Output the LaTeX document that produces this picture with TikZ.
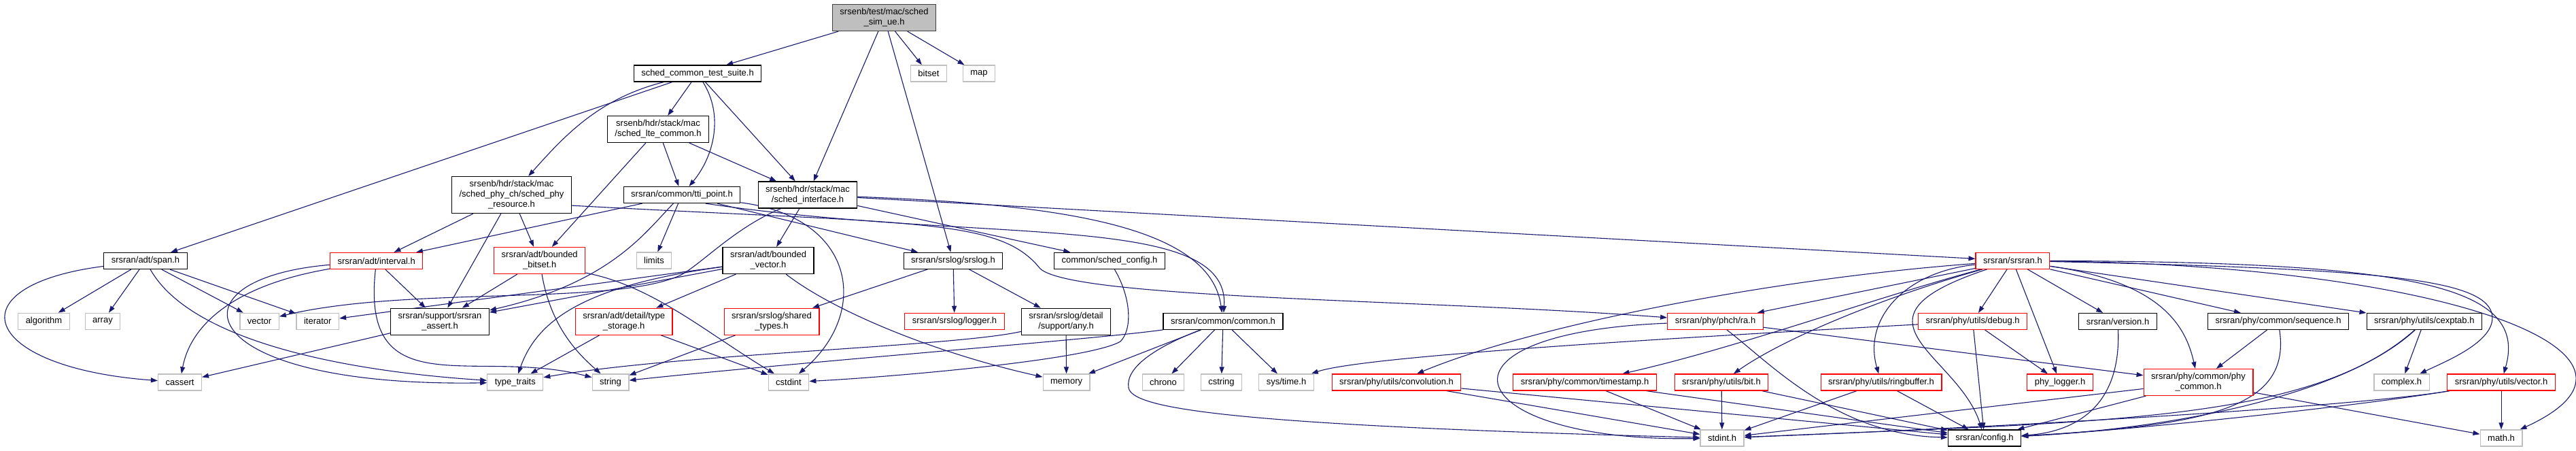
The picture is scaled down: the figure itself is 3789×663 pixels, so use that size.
\documentclass[tikz,border=0pt]{standalone}
\usepackage{fontspec}
\setmainfont{Liberation Sans}
\usetikzlibrary{arrows.meta,backgrounds}
\definecolor{depblue}{RGB}{25,25,112}
\definecolor{grey75}{RGB}{191,191,191}
\tikzset{
  hdr/.style={draw=black, fill=white, line width=1.2pt, inner xsep=11pt, inner ysep=2pt,
    minimum height=24pt, align=center, font=\fontsize{13}{15}\selectfont},
  redhdr/.style={hdr, draw=red},
  syshdr/.style={hdr, draw=grey75},
  tophdr/.style={hdr, fill=grey75, draw=black!75},
  lines2/.style={minimum height=39pt},
  lines3/.style={minimum height=54pt},
  dep/.style={->, draw=depblue, line width=1.1pt},
  >={Triangle[length=10pt,width=7pt]}
}
\begin{document}
\begin{tikzpicture}[x=1pt,y=-1pt]
\useasboundingbox (0,0) rectangle (3789,663);

\node[tophdr,lines2] (simue) at (1300.5,26) {srsenb/test/mac/sched\\\_sim\_ue.h};

\node[hdr] (suite) at (1026,108) {sched\_common\_test\_suite.h};
\node[syshdr] (bitset) at (1366,108) {bitset};
\node[syshdr] (map) at (1440,108) {map};

\node[hdr,lines2] (lte) at (968,190) {srsenb/hdr/stack/mac\\/sched\_lte\_common.h};

\node[hdr,lines3] (phyres) at (752.5,286.5) {srsenb/hdr/stack/mac\\/sched\_phy\_ch/sched\_phy\\\_resource.h};
\node[hdr] (tti) at (1003,286.5) {srsran/common/tti\_point.h};
\node[hdr,lines2] (iface) at (1188,286.5) {srsenb/hdr/stack/mac\\/sched\_interface.h};

\node[hdr] (span) at (214,383.5) {srsran/adt/span.h};
\node[redhdr] (interval) at (553.7,383.5) {srsran/adt/interval.h};
\node[redhdr,lines2] (bbitset) at (793.7,383) {srsran/adt/bounded\\\_bitset.h};
\node[syshdr] (limits) at (962,383) {limits};
\node[hdr,lines2] (bvector) at (1130,383) {srsran/adt/bounded\\\_vector.h};
\node[hdr] (srslog) at (1402,383.3) {srsran/srslog/srslog.h};
\node[hdr] (schedcfg) at (1632,383.3) {common/sched\_config.h};
\node[redhdr] (srsranh) at (2960.4,383.3) {srsran/srsran.h};

\node[syshdr] (algorithm) at (64.5,472.3) {algorithm};
\node[syshdr] (array) at (151,472.3) {array};
\node[syshdr] (vector) at (381.6,472.3) {vector};
\node[syshdr] (iterator) at (467.3,472.3) {iterator};
\node[hdr,lines2] (assert) at (647,472.7) {srsran/support/srsran\\\_assert.h};
\node[redhdr,lines2] (typestor) at (917.7,472.7) {srsran/adt/detail/type\\\_storage.h};
\node[redhdr,lines2] (shtypes) at (1135,472.7) {srsran/srslog/shared\\\_types.h};
\node[redhdr] (logger) at (1404,472.3) {srsran/srslog/logger.h};
\node[hdr,lines2] (any) at (1568,472.7) {srsran/srslog/detail\\/support/any.h};
\node[hdr] (common) at (1799,472.3) {srsran/common/common.h};
\node[redhdr] (ra) at (2523,472.3) {srsran/phy/phch/ra.h};
\node[redhdr] (debug) at (2901.6,472.5) {srsran/phy/utils/debug.h};
\node[hdr] (version) at (3115,472.5) {srsran/version.h};
\node[hdr] (sequence) at (3351,472.5) {srsran/phy/common/sequence.h};
\node[hdr] (cexptab) at (3565.8,472.5) {srsran/phy/utils/cexptab.h};

\node[syshdr] (cassert) at (264.5,562) {cassert};
\node[syshdr] (typetraits) at (757.8,562) {type\_traits};
\node[syshdr] (string) at (898,562) {string};
\node[syshdr] (cstdint) at (1160,562) {cstdint};
\node[syshdr] (memory) at (1568.6,562) {memory};
\node[syshdr] (chrono) at (1711,562) {chrono};
\node[syshdr] (cstring) at (1796.5,562) {cstring};
\node[syshdr] (systime) at (1892,562) {sys/time.h};
\node[redhdr] (convol) at (2054,562) {srsran/phy/utils/convolution.h};
\node[redhdr] (timestamp) at (2331,562) {srsran/phy/common/timestamp.h};
\node[redhdr] (bit) at (2532,562) {srsran/phy/utils/bit.h};
\node[redhdr] (ringbuf) at (2767,562) {srsran/phy/utils/ringbuffer.h};
\node[redhdr] (phylog) at (3030,562) {phy\_logger.h};
\node[redhdr,lines2] (phycommon) at (3233.5,562) {srsran/phy/common/phy\\\_common.h};
\node[syshdr] (complex) at (3532.5,562) {complex.h};
\node[redhdr] (vectorh) at (3679,562) {srsran/phy/utils/vector.h};

\node[syshdr] (stdint) at (2533,644) {stdint.h};
\node[hdr] (config) at (2919,644) {srsran/config.h};
\node[syshdr] (math) at (3679,644) {math.h};

\begin{scope}[on background layer]
\draw[dep] (simue) -- (suite);
\draw[dep] (simue) -- (iface);
\draw[dep] (simue) -- (srslog);
\draw[dep] (simue) -- (bitset);
\draw[dep] (simue) -- (map);

\draw[dep] (suite) -- (span);
\draw[dep] (suite) .. controls (880,145) and (830,200) .. (phyres);
\draw[dep] (suite) -- (lte);
\draw[dep] (suite) .. controls (1065,170) and (1050,230) .. (tti);
\draw[dep] (suite) -- (iface);

\draw[dep] (lte) -- (bbitset);
\draw[dep] (lte) -- (tti);
\draw[dep] (lte) -- (iface);

\draw[dep] (phyres) -- (interval);
\draw[dep] (phyres) -- (assert);
\draw[dep] (phyres) -- (bbitset);
\draw[dep] (phyres.-10) .. controls (1350,330) and (1470,320) .. (1530,395) .. controls (1580,440) and (2100,440) .. (ra);

\draw[dep] (tti) -- (interval);
\draw[dep] (tti) .. controls (950,340) and (900,415) .. (assert);
\draw[dep] (tti) -- (limits);
\draw[dep] (tti) .. controls (1260,320) and (1280,460) .. (cstdint);
\draw[dep] (tti) -- (srslog);
\draw[dep] (tti.-20) .. controls (1450,360) and (1810,310) .. (common);

\draw[dep] (iface) -- (bvector);
\draw[dep] (iface) -- (schedcfg);
\draw[dep] (iface) .. controls (1550,300) and (1780,330) .. (common);
\draw[dep] (iface) -- (srsranh);
\draw[dep] (iface.-153) .. controls (1080,335) and (1030,390) .. (1000,405) .. controls (900,450) and (600,420) .. (vector);

\draw[dep] (span) -- (algorithm);
\draw[dep] (span) -- (array);
\draw[dep] (span) -- (vector);
\draw[dep] (span) -- (iterator);
\draw[dep] (span) .. controls (-70,420) and (-30,540) .. (cassert);
\draw[dep] (span) .. controls (280,500) and (500,545) .. (typetraits);

\draw[dep] (interval) .. controls (340,420) and (280,480) .. (cassert);
\draw[dep] (interval) .. controls (240,410) and (280,570) .. (typetraits);
\draw[dep] (interval) .. controls (530,600) and (700,510) .. (string);
\draw[dep] (interval) -- (assert);

\draw[dep] (bbitset) -- (assert);
\draw[dep] (bbitset) .. controls (810,480) and (850,520) .. (string);
\draw[dep] (bbitset.-15) .. controls (960,420) and (1040,490) .. (cstdint);

\draw[dep] (assert) -- (cassert);

\draw[dep] (bvector) -- (iterator);
\draw[dep] (bvector) -- (assert);
\draw[dep] (bvector) .. controls (860,420) and (790,470) .. (typetraits);
\draw[dep] (bvector) -- (typestor);
\draw[dep] (bvector) .. controls (1230,460) and (1380,520) .. (memory);

\draw[dep] (typestor) -- (typetraits);
\draw[dep] (typestor) -- (cstdint);
\draw[dep] (shtypes) -- (string);

\draw[dep] (srslog) -- (logger);
\draw[dep] (srslog) -- (any);
\draw[dep] (srslog) -- (shtypes);

\draw[dep] (any) -- (memory);
\draw[dep] (any) .. controls (1400,510) and (1000,520) .. (typetraits);

\draw[dep] (schedcfg) .. controls (1665,440) and (1665,485) .. (1648,502) .. controls (1600,530) and (1300,555) .. (cstdint);

\draw[dep] (common) -- (memory);
\draw[dep] (common) -- (chrono);
\draw[dep] (common) -- (cstring);
\draw[dep] (common) -- (systime);
\draw[dep] (common.south west) .. controls (1600,500) and (1200,530) .. (string);
\draw[dep] (common) .. controls (1700,510) and (1655,540) .. (1660,570) .. controls (1665,600) and (1800,625) .. (stdint);

\draw[dep] (srsranh) -- (ra);
\draw[dep] (srsranh) .. controls (2600,410) and (2250,480) .. (convol);
\draw[dep] (srsranh) .. controls (2750,440) and (2560,510) .. (timestamp);
\draw[dep] (srsranh) .. controls (2760,440) and (2620,500) .. (bit);
\draw[dep] (srsranh) .. controls (2800,400) and (2740,470) .. (ringbuf);
\draw[dep] (srsranh) .. controls (2700,470) and (2880,520) .. (config);
\draw[dep] (srsranh) -- (debug);
\draw[dep] (srsranh) -- (phylog);
\draw[dep] (srsranh) -- (version);
\draw[dep] (srsranh) .. controls (3180,415) and (3215,480) .. (phycommon);
\draw[dep] (srsranh) -- (sequence);
\draw[dep] (srsranh) -- (cexptab);
\draw[dep] (srsranh) .. controls (3500,395) and (3650,410) .. (3665,460) .. controls (3675,500) and (3600,530) .. (complex);
\draw[dep] (srsranh) .. controls (3550,385) and (3720,420) .. (vectorh);
\draw[dep] (srsranh) .. controls (3600,390) and (3950,520) .. (math);

\draw[dep] (ra) .. controls (2080,490) and (2150,650) .. (stdint);
\draw[dep] (ra) .. controls (2600,530) and (2700,640) .. (config);
\draw[dep] (ra) -- (phycommon);

\draw[dep] (debug) .. controls (2400,500) and (2000,525) .. (systime);
\draw[dep] (debug) -- (config);
\draw[dep] (debug) -- (phylog);

\draw[dep] (version) .. controls (3120,600) and (3050,635) .. (config);

\draw[dep] (sequence) -- (phycommon);
\draw[dep] (sequence) .. controls (3370,600) and (3250,625) .. (config);

\draw[dep] (cexptab) -- (complex);
\draw[dep] (cexptab) .. controls (3400,620) and (3100,620) .. (stdint);
\draw[dep] (cexptab) .. controls (3450,580) and (3200,630) .. (config);

\draw[dep] (vectorh) -- (math);
\draw[dep] (vectorh) .. controls (3450,600) and (2900,630) .. (stdint);
\draw[dep] (vectorh) .. controls (3450,600) and (3100,635) .. (config);

\draw[dep] (phycommon) -- (config);
\draw[dep] (phycommon) -- (stdint);
\draw[dep] (phycommon) -- (math);

\draw[dep] (convol) -- (stdint);
\draw[dep] (convol) -- (config);
\draw[dep] (timestamp) -- (stdint);
\draw[dep] (timestamp) -- (config);
\draw[dep] (bit) -- (stdint);
\draw[dep] (bit) -- (config);
\draw[dep] (ringbuf) -- (stdint);
\draw[dep] (ringbuf) -- (config);
\end{scope}
\end{tikzpicture}
\end{document}
